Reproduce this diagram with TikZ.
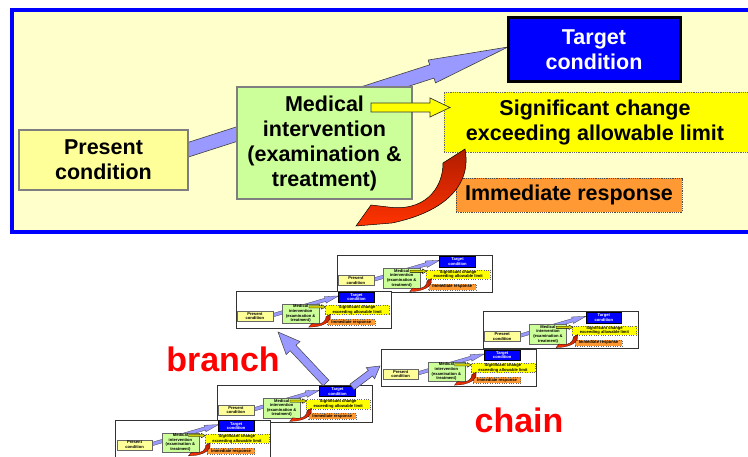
\documentclass[tikz,border=0pt]{standalone}
\usepackage{fontspec}
\setmainfont{Liberation Sans}
\usetikzlibrary{calc}
\definecolor{bgyel}{HTML}{FFFFCC}
\definecolor{paleyel}{HTML}{FFFF99}
\definecolor{palegreen}{HTML}{CCFF99}
\definecolor{lav}{HTML}{9999FF}
\definecolor{orng}{HTML}{FF9933}
\definecolor{dred}{HTML}{B01C00}
\definecolor{bred}{HTML}{FF3300}
\definecolor{pureblue}{HTML}{0000FF}
\definecolor{pureyel}{HTML}{FFFF00}
\definecolor{purered}{HTML}{FF0000}
\definecolor{boxgray}{HTML}{7F7F7F}

% block arrow: #1 start, #2 tip, #3 head length, #4 head half width, #5 shaft half width, #6 style
\newcommand\blockarr[6]{%
  \coordinate (ba-b) at ($(#2)!#3!(#1)$);
  \draw[#6] ($(#1)!#5!90:(#2)$) -- ($(ba-b)!#5!-90:(#1)$) -- ($(ba-b)!#4!-90:(#1)$) -- (#2)
    -- ($(ba-b)!#4!90:(#1)$) -- ($(ba-b)!#5!90:(#1)$) -- ($(#1)!#5!-90:(#2)$) -- cycle;}

% curved red arrow, relative to its upper end
\newcommand\redcurve[2]{%
  \begin{scope}[#1]
    \draw[redarrow, #2] (0,0) .. controls (7,36) and (-20,63) .. (-73,74) -- (-109,77) -- (-94,56)
      -- (-77,58) .. controls (-42,63) and (-22,41) .. (-22,14) -- cycle;
  \end{scope}}

% small copy of the panel: #1 prefix, #2 x, #3 y (top-left corner)
\newcommand\tinypanel[3]{%
  \begin{scope}[shift={(#2,#3)}]
    \node[tframe] (#1f) at (77.5,18.6) {};
    \coordinate (#1s) at (28,26.5);
    \coordinate (#1t) at (102.7,4.6);
    \blockarr{#1s}{#1t}{14pt}{3.4pt}{1.7pt}{lavarrow, line width=0.3pt}
    \node[tbox, fill=paleyel, minimum width=35.7pt, minimum height=10pt] (#1p) at (18.9,24.7) {Present\\condition};
    \node[tbox, fill=palegreen, minimum width=37.3pt, minimum height=19.6pt] (#1m) at (64.7,22.5) {Medical\\intervention\\(examination \&\\treatment)};
    \node[tbox, fill=pureblue, draw=black, line width=0.6pt, text=white, minimum width=35.7pt, minimum height=10.6pt] (#1g) at (120.5,6) {Target\\condition};
    \node[tbox, fill=pureyel, dotted, minimum width=64.3pt, minimum height=9.3pt] (#1c) at (121.2,18.7) {Significant change\\exceeding allowable limit};
    \coordinate (#1y1) at (73,15.6);
    \coordinate (#1y2) at (89.6,15.6);
    \blockarr{#1y1}{#1y2}{4pt}{2.3pt}{1.1pt}{fill=pureyel!80!black, draw=black, line width=0.3pt}
    \node[tbox, fill=orng, dotted, minimum width=47.3pt, minimum height=6pt] (#1r) at (115.3,31) {Immediate response};
    \redcurve{shift={(94.5,22.8)}, xscale=0.2, yscale=0.17}{line width=0.2pt}
  \end{scope}}

\begin{document}
\begin{tikzpicture}[x=1pt,y=-1pt,
  mainfont/.style={font=\fontsize{21.5}{25}\selectfont\bfseries},
  mbox/.style={mainfont, draw=boxgray, line width=1.2pt, inner sep=0pt, align=center},
  lavarrow/.style={fill=lav, draw=black!75, line width=0.6pt, line join=miter},
  redarrow/.style={top color=dred, bottom color=bred, draw=black, line width=0.5pt},
  tframe/.style={draw=black!80, fill=white, line width=0.8pt, minimum width=155pt, minimum height=37pt, inner sep=0pt},
  tbox/.style={font=\fontsize{4.1}{4.6}\selectfont\bfseries, draw=black!60, line width=0.35pt, inner sep=0pt, align=center},
  bigred/.style={font=\fontsize{34}{36}\selectfont\bfseries, text=purered, inner sep=0pt}]
\clip (0,0) rectangle (748,457);
\fill[white] (0,0) rectangle (748,457);

% main panel
\node[draw=pureblue, fill=bgyel, line width=4pt, minimum width=800pt, minimum height=222pt, anchor=north west, inner sep=0pt] (panel) at (10,8) {};

\coordinate (ls) at (150,162);
\coordinate (lt) at (508,47);
\blockarr{ls}{lt}{80pt}{12pt}{7pt}{lavarrow}

\node[mbox, fill=paleyel, minimum width=169pt, minimum height=60pt] (pres) at (103.5,160) {Present\\condition};
\node[mbox, fill=palegreen, minimum width=175pt, minimum height=112pt] (med) at (324.5,143) {Medical\\intervention\\(examination \&\\treatment)};
\node[mbox, fill=pureblue, draw=black, line width=3pt, text=white, minimum width=172pt, minimum height=64pt] (targ) at (594,50) {Target\\condition};
\node[draw=boxgray!80!black, fill=pureyel, densely dotted, line width=0.8pt, minimum width=360pt, minimum height=60pt, anchor=west, inner sep=0pt] (sigbox) at (444,122) {};
\node[mainfont, align=center, inner sep=0pt] (sig) at (595,122) {Significant change\\exceeding allowable limit};
\coordinate (ya1) at (371,107.5);
\coordinate (ya2) at (450,107.5);
\blockarr{ya1}{ya2}{20pt}{9.5pt}{4.5pt}{fill=pureyel, draw=black!80, line width=0.7pt}
\node[mbox, fill=orng, draw=black!70, densely dotted, line width=0.8pt, minimum width=226pt, minimum height=34pt] (resp) at (569,195) {Immediate response};
\redcurve{shift={(465,149)}}{}

% small copies
\tinypanel{d}{337}{255.7}
\tinypanel{c}{236}{291.3}
\tinypanel{e}{483.3}{311.7}
\tinypanel{f}{381.7}{349.3}
\tinypanel{b}{217}{385.5}
\tinypanel{a}{115.7}{420}

% arrows between copies
\coordinate (bra1) at (326,383);
\coordinate (bra2) at (278,332);
\blockarr{bra1}{bra2}{22pt}{9.5pt}{4pt}{lavarrow, line width=0.5pt}
\coordinate (cha1) at (352,387);
\coordinate (cha2) at (380,366);
\blockarr{cha1}{cha2}{12pt}{7pt}{3.5pt}{lavarrow, line width=0.5pt}

\node[bigred, anchor=base] (branch) at (223,372) {branch};
\node[bigred, anchor=base] (chain) at (519,432) {chain};
\end{tikzpicture}
\end{document}
